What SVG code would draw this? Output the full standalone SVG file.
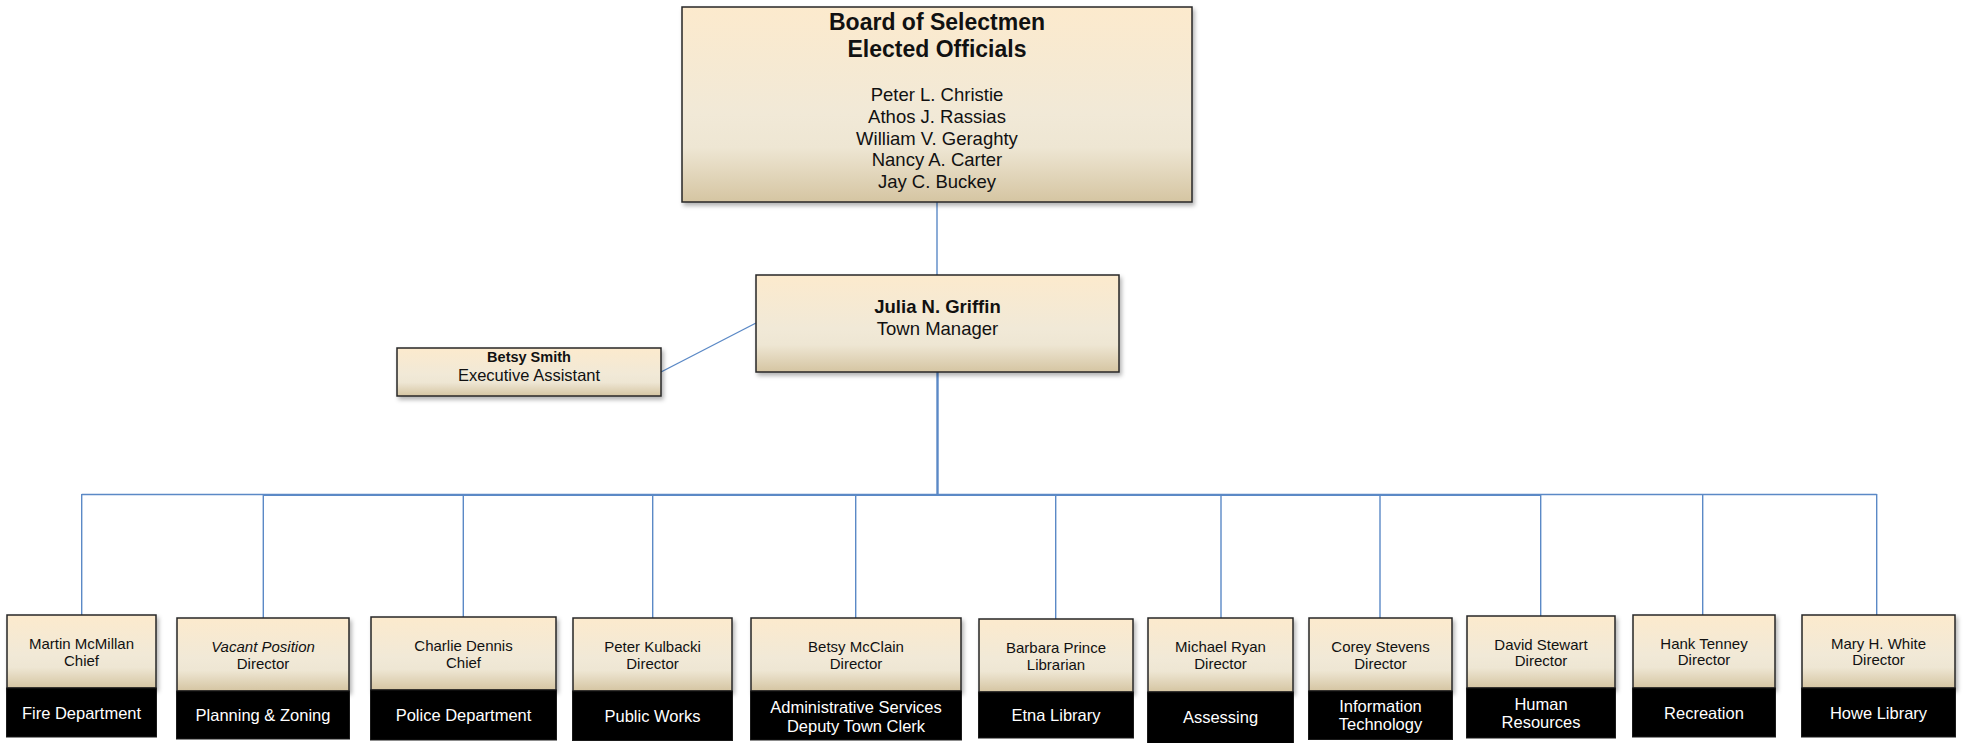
<svg xmlns="http://www.w3.org/2000/svg" width="1965" height="743" viewBox="0 0 1965 743">
<defs>
<linearGradient id="tan" x1="0" y1="0" x2="0" y2="1">
<stop offset="0" stop-color="#FCEACD"/>
<stop offset="0.55" stop-color="#F1E9D7"/>
<stop offset="0.72" stop-color="#EEE6D3"/>
<stop offset="1" stop-color="#D5C5A2"/>
</linearGradient>
<filter id="sh" x="-10%" y="-10%" width="125%" height="135%">
<feDropShadow dx="2" dy="3" stdDeviation="2" flood-color="#000" flood-opacity="0.3"/>
</filter>
<style>
.box{fill:url(#tan);stroke:#262626;stroke-width:1.5;filter:url(#sh)}
.blk{fill:#000;stroke:#1a1a1a;stroke-width:1}
.ln{stroke:#5B89C6;stroke-width:1.4;fill:none}
.t{font-family:"Liberation Sans",Arial,sans-serif;text-anchor:middle;fill:#111}
.n{font-size:15px}
.d{font-size:16.5px;fill:#fff}
.b{font-weight:bold}
</style>
</defs>
<rect width="1965" height="743" fill="#fff"/>
<g id="connectors">
<line class="ln" x1="937" y1="202" x2="937" y2="275"/>
<line class="ln" x1="661" y1="372" x2="756" y2="323"/>
<line class="ln" x1="937.5" y1="372" x2="937.5" y2="495" style="stroke-width:2.4"/>
<line class="ln" x1="81.7" y1="494.5" x2="1876.7" y2="494.5" style="stroke-width:1.6"/>
<line class="ln" x1="263" y1="495" x2="1540" y2="495" style="stroke-width:2.2"/>
<line class="ln" x1="81.7" y1="494" x2="81.7" y2="615"/>
<line class="ln" x1="263.3" y1="494" x2="263.3" y2="618"/>
<line class="ln" x1="463.3" y1="494" x2="463.3" y2="617"/>
<line class="ln" x1="652.7" y1="494" x2="652.7" y2="618"/>
<line class="ln" x1="855.7" y1="494" x2="855.7" y2="618"/>
<line class="ln" x1="1055.7" y1="494" x2="1055.7" y2="619"/>
<line class="ln" x1="1221" y1="494" x2="1221" y2="618"/>
<line class="ln" x1="1380" y1="494" x2="1380" y2="618"/>
<line class="ln" x1="1540.7" y1="494" x2="1540.7" y2="616"/>
<line class="ln" x1="1702.7" y1="494" x2="1702.7" y2="615"/>
<line class="ln" x1="1876.7" y1="494" x2="1876.7" y2="615"/>
</g>
<g id="board">
<rect class="box" x="682" y="7" width="510" height="195"/>
<text class="t b" x="937" y="30" font-size="23">Board of Selectmen</text>
<text class="t b" x="937" y="57" font-size="23">Elected Officials</text>
<text class="t" x="937" y="101" font-size="18.5">Peter L. Christie</text>
<text class="t" x="937" y="123" font-size="18.5">Athos J. Rassias</text>
<text class="t" x="937" y="144.5" font-size="18.5">William V. Geraghty</text>
<text class="t" x="937" y="166" font-size="18.5">Nancy A. Carter</text>
<text class="t" x="937" y="187.5" font-size="18.5">Jay C. Buckey</text>
</g>
<g id="manager">
<rect class="box" x="756" y="275" width="363" height="97"/>
<text class="t b" x="937.5" y="313" font-size="18.5">Julia N. Griffin</text>
<text class="t" x="937.5" y="335" font-size="18.5">Town Manager</text>
</g>
<g id="assistant">
<rect class="box" x="397" y="348" width="264" height="48"/>
<text class="t b" x="529" y="361.5" font-size="14.5">Betsy Smith</text>
<text class="t" x="529" y="380.5" font-size="16.5">Executive Assistant</text>
</g>
<g id="fire">
<rect class="box" x="7" y="615" width="149" height="73"/>
<rect class="blk" x="6.5" y="688" width="150" height="49"/>
<text class="t n" x="81.5" y="649.3">Martin McMillan</text>
<text class="t n" x="81.5" y="665.7">Chief</text>
<text class="t d" x="81.5" y="719">Fire Department</text>
</g>
<g id="planning">
<rect class="box" x="177" y="618" width="172" height="73"/>
<rect class="blk" x="176.5" y="691" width="173" height="48"/>
<text class="t n" x="263" y="652.3" font-style="italic">Vacant Position</text>
<text class="t n" x="263" y="669">Director</text>
<text class="t d" x="263" y="720.7">Planning &amp; Zoning</text>
</g>
<g id="police">
<rect class="box" x="371" y="617" width="185" height="73"/>
<rect class="blk" x="370.5" y="690" width="186" height="50"/>
<text class="t n" x="463.5" y="651">Charlie Dennis</text>
<text class="t n" x="463.5" y="667.7">Chief</text>
<text class="t d" x="463.5" y="721">Police Department</text>
</g>
<g id="publicworks">
<rect class="box" x="573" y="618" width="159" height="73"/>
<rect class="blk" x="572.5" y="691" width="160" height="49.5"/>
<text class="t n" x="652.5" y="652.3">Peter Kulbacki</text>
<text class="t n" x="652.5" y="669.3">Director</text>
<text class="t d" x="652.5" y="721.7">Public Works</text>
</g>
<g id="admin">
<rect class="box" x="751" y="618" width="210" height="73"/>
<rect class="blk" x="750.5" y="691" width="211" height="49"/>
<text class="t n" x="856" y="652.3">Betsy McClain</text>
<text class="t n" x="856" y="669">Director</text>
<text class="t d" x="856" y="713.3">Administrative Services</text>
<text class="t d" x="856" y="731.7">Deputy Town Clerk</text>
</g>
<g id="etna">
<rect class="box" x="979" y="619" width="154" height="73"/>
<rect class="blk" x="978.5" y="692" width="155" height="46"/>
<text class="t n" x="1056" y="652.7">Barbara Prince</text>
<text class="t n" x="1056" y="670">Librarian</text>
<text class="t d" x="1056" y="720.7">Etna Library</text>
</g>
<g id="assessing">
<rect class="box" x="1148" y="618" width="145" height="74"/>
<rect class="blk" x="1147.5" y="692" width="146" height="53"/>
<text class="t n" x="1220.5" y="652.3">Michael Ryan</text>
<text class="t n" x="1220.5" y="669.3">Director</text>
<text class="t d" x="1220.5" y="723.3">Assessing</text>
</g>
<g id="it">
<rect class="box" x="1309" y="618" width="143" height="73"/>
<rect class="blk" x="1308.5" y="691" width="144" height="48.5"/>
<text class="t n" x="1380.5" y="652.3">Corey Stevens</text>
<text class="t n" x="1380.5" y="669.3">Director</text>
<text class="t d" x="1380.5" y="711.7">Information</text>
<text class="t d" x="1380.5" y="730">Technology</text>
</g>
<g id="hr">
<rect class="box" x="1467" y="616" width="148" height="72"/>
<rect class="blk" x="1466.5" y="688" width="149" height="50"/>
<text class="t n" x="1541" y="650">David Stewart</text>
<text class="t n" x="1541" y="665.7">Director</text>
<text class="t d" x="1541" y="710">Human</text>
<text class="t d" x="1541" y="728">Resources</text>
</g>
<g id="recreation">
<rect class="box" x="1633" y="615" width="142" height="73"/>
<rect class="blk" x="1632.5" y="688" width="143" height="49"/>
<text class="t n" x="1704" y="649.3">Hank Tenney</text>
<text class="t n" x="1704" y="665.3">Director</text>
<text class="t d" x="1704" y="719">Recreation</text>
</g>
<g id="howe">
<rect class="box" x="1802" y="615" width="153" height="73"/>
<rect class="blk" x="1801.5" y="688" width="154" height="49"/>
<text class="t n" x="1878.5" y="649.3">Mary H. White</text>
<text class="t n" x="1878.5" y="665.3">Director</text>
<text class="t d" x="1878.5" y="719">Howe Library</text>
</g>
</svg>
